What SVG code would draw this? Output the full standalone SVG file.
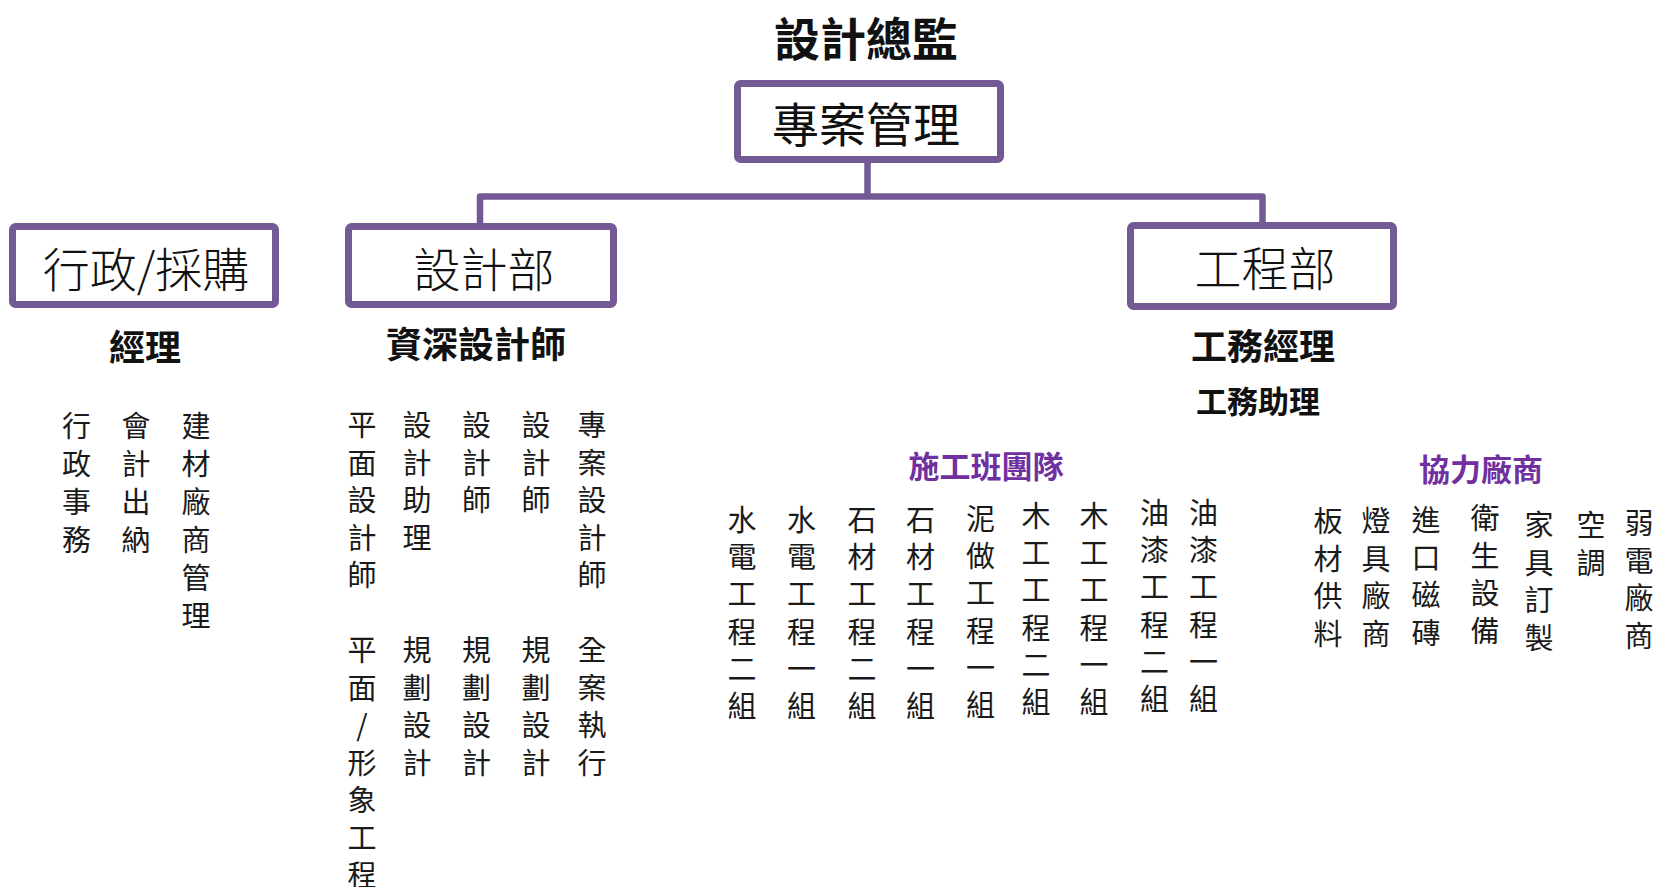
<svg xmlns="http://www.w3.org/2000/svg" width="1657" height="887" viewBox="0 0 1657 887">
<style>
text{font-family:"Noto Sans CJK TC","Noto Sans CJK SC",sans-serif;fill:#111;}
.box{fill:#fff;stroke:#745A94;stroke-width:7;}
.conn{fill:none;stroke:#745A94;stroke-width:6.5;stroke-linejoin:round;}
.c{text-anchor:middle;}
.title{font-size:46px;font-weight:700;}
.pm{font-size:47px;}
.dept{font-size:47px;font-weight:300;}
.role{font-size:36px;font-weight:700;}
.role2{font-size:31px;font-weight:700;}
.team{font-size:31px;font-weight:700;fill:#7030A0;}
.v{font-size:29px;fill:#1a1a1a;writing-mode:vertical-rl;text-orientation:upright;}
.a{letter-spacing:9px;}
.d{letter-spacing:8.5px;}
.t{letter-spacing:8.2px;}
.p{letter-spacing:8.7px;}
</style>
<rect width="1657" height="887" fill="#fff"/>
<g id="connectors">
<path class="conn" d="M867.5 163 V196.5"/>
<path class="conn" d="M480 223 V196.5 H1262.5 V222"/>
</g>
<g id="director">
<text class="title c" x="866" y="56">設計總監</text>
</g>
<g id="project-management">
<rect class="box" x="737.5" y="83.5" width="263" height="76" rx="3"/>
<text class="pm c" x="866" y="142">專案管理</text>
</g>
<g id="admin">
<rect class="box" x="12.5" y="226.5" width="263" height="78" rx="3"/>
<text class="dept c" x="146" y="287">行政/採購</text>
<text class="role c" x="145" y="361">經理</text>
<text class="v a" x="76.5" y="411.5">行政事務</text>
<text class="v a" x="136" y="411.5">會計出納</text>
<text class="v a" x="196" y="411.5">建材廠商管理</text>
</g>
<g id="design">
<rect class="box" x="348.5" y="226.5" width="265" height="78" rx="3"/>
<text class="dept c" x="484" y="287">設計部</text>
<text class="role c" x="476" y="358">資深設計師</text>
<text class="v d" x="362" y="410.5">平面設計師</text>
<text class="v d" x="417" y="410.5">設計助理</text>
<text class="v d" x="476.5" y="410.5">設計師</text>
<text class="v d" x="536" y="410.5">設計師</text>
<text class="v d" x="592" y="410.5">專案設計師</text>
<text class="v d" x="362" y="635.5">平面/形象工程</text>
<text class="v d" x="417" y="635.5">規劃設計</text>
<text class="v d" x="476.5" y="635.5">規劃設計</text>
<text class="v d" x="536" y="635.5">規劃設計</text>
<text class="v d" x="592" y="635.5">全案執行</text>
</g>
<g id="engineering">
<rect class="box" x="1130.5" y="225.5" width="263" height="81" rx="3"/>
<text class="dept c" x="1265" y="286">工程部</text>
<text class="role c" x="1263" y="360">工務經理</text>
<text class="role2 c" x="1258" y="413">工務助理</text>
</g>
<g id="construction-teams">
<text class="team c" x="986" y="478">施工班團隊</text>
<text class="v t" x="742" y="505.5">水電工程二組</text>
<text class="v t" x="801.5" y="505.5">水電工程一組</text>
<text class="v t" x="862" y="505.5">石材工程二組</text>
<text class="v t" x="920.5" y="505.5">石材工程一組</text>
<text class="v t" x="980.5" y="504.5">泥做工程一組</text>
<text class="v t" x="1036" y="501.5">木工工程二組</text>
<text class="v t" x="1094" y="501.5">木工工程一組</text>
<text class="v t" x="1154.5" y="498.5">油漆工程二組</text>
<text class="v t" x="1203.5" y="498.5">油漆工程一組</text>
</g>
<g id="partner-vendors">
<text class="team c" x="1481" y="481">協力廠商</text>
<text class="v p" x="1328" y="506.5">板材供料</text>
<text class="v p" x="1376" y="506.5">燈具廠商</text>
<text class="v p" x="1426" y="505.5">進口磁磚</text>
<text class="v p" x="1485" y="503.5">衛生設備</text>
<text class="v p" x="1539" y="510.5">家具訂製</text>
<text class="v p" x="1591" y="510.5">空調</text>
<text class="v p" x="1639" y="508.5">弱電廠商</text>
</g>
</svg>
